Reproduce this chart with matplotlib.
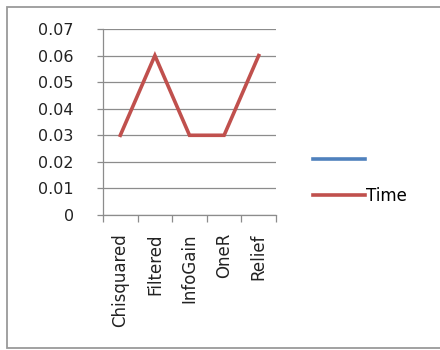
import matplotlib
matplotlib.use('Agg')
import matplotlib.pyplot as plt
from matplotlib.lines import Line2D

# attribute selection methods and their running time
methods = ['Chisquared', 'Filtered', 'InfoGain', 'OneR', 'Relief']
time_vals = [0.03, 0.06, 0.03, 0.03, 0.06]
y_ticks = [0, 0.01, 0.02, 0.03, 0.04, 0.05, 0.06, 0.07]
y_labels = ['0', '0.01', '0.02', '0.03', '0.04', '0.05', '0.06', '0.07']

blue = '#4F81BD'
red = '#C0504D'
grid_col = '#8C8C8C'

plt.rcParams['font.family'] = ['DejaVu Sans']

fig = plt.figure(figsize=(4.4, 3.5), dpi=100)
fig.patch.set_facecolor('white')

# chart frame: top, left and bottom edges, open on the right
fx0, fx1, fy0, fy1 = 6.5 / 440, 1.0, 2 / 350, 343 / 350
fig.add_artist(Line2D([fx1, fx0, fx0, fx1], [fy1, fy1, fy0, fy0],
                      transform=fig.transFigure, color='#9A9A9A',
                      linewidth=1.3, solid_joinstyle='miter'))

ax = fig.add_axes([103 / 440, 135 / 350, 173 / 440, 186 / 350])
x = list(range(len(methods)))
ax.plot(x, time_vals, color=red, linewidth=2.6, solid_joinstyle='miter')

ax.set_xlim(-0.5, len(methods) - 0.5)
ax.set_ylim(0, 0.07)
ax.set_yticks(y_ticks)
ax.set_yticklabels(y_labels, fontsize=11.5, color='#222222')
ax.set_xticks(x)
ax.set_xticklabels(methods, rotation=90, fontsize=12, color='#222222')
ax.set_xticks([i - 0.5 for i in range(len(methods) + 1)], minor=True)

ax.grid(axis='y', color=grid_col, linewidth=0.9)
ax.set_axisbelow(True)
ax.tick_params(axis='x', which='major', length=0, pad=13)
ax.tick_params(axis='x', which='minor', length=5, color=grid_col, width=0.9)
ax.tick_params(axis='y', length=4, color=grid_col, width=0.9, pad=17)

for side in ['top', 'right']:
    ax.spines[side].set_visible(False)
for side in ['left', 'bottom']:
    ax.spines[side].set_color(grid_col)
    ax.spines[side].set_linewidth(0.9)

handles = [Line2D([], [], color=blue, linewidth=2.6),
           Line2D([], [], color=red, linewidth=2.6)]
fig.legend(handles, ['', 'Time'], loc='center left',
           bbox_to_anchor=(298 / 440, 1 - 178 / 350), frameon=False,
           fontsize=12, handlelength=3.1, handletextpad=0.1,
           labelspacing=1.1)

fig.savefig('out.png', dpi=100, facecolor='white')
